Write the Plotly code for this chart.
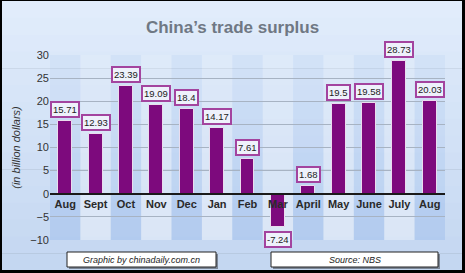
import plotly.graph_objects as go

months = ["Aug", "Sept", "Oct", "Nov", "Dec", "Jan", "Feb", "Mar", "April", "May", "June", "July", "Aug"]
surplus = [15.71, 12.93, 23.39, 19.09, 18.4, 14.17, 7.61, -7.24, 1.68, 19.5, 19.58, 28.73, 20.03]
labels = ["15.71", "12.93", "23.39", "19.09", "18.4", "14.17", "7.61", "-7.24", "1.68", "19.5", "19.58", "28.73", "20.03"]
y_ticks = [-10, -5, 0, 5, 10, 15, 20, 25, 30]

W, H = 465, 273
ML, MR, MT, MB = 50, 20, 55, 33
PW, PH = W - ML - MR, H - MT - MB


def px_x(px):
    return (px - ML) / PW


def px_y(py):
    return (H - MB - py) / PH


xs = list(range(len(months)))

fig = go.Figure()
fig.add_trace(go.Bar(
    x=xs, y=surplus, width=0.46,
    marker=dict(color="#7d0a7d", line=dict(color="#eadcee", width=1)),
    hoverinfo="skip", showlegend=False,
))

shapes = []
# gradient background inside black frame
top = (0xe1, 0xec, 0xfb)
bot = (0xc4, 0xd7, 0xf1)
N = 16
y0p, y1p = 1, 270
for k in range(N):
    t = k / (N - 1)
    c = tuple(round(top[j] + (bot[j] - top[j]) * t) for j in range(3))
    a = y0p + (y1p - y0p) * k / N
    b = y0p + (y1p - y0p) * (k + 1) / N + 0.6
    shapes.append(dict(type="rect", xref="paper", yref="paper", layer="below",
                       x0=px_x(2), x1=px_x(462), y0=px_y(min(b, y1p)), y1=px_y(a),
                       fillcolor="rgb(%d,%d,%d)" % c, line=dict(width=0)))
# alternating column bands (stronger toward the bottom)
segs = [(-10, 0, 0.34), (0, 10, 0.22), (10, 20, 0.16), (20, 30, 0.10)]
for i in xs:
    for (ya, yb, op) in segs:
        col = ("rgba(140,180,235,%.2f)" % op) if i % 2 == 0 else ("rgba(255,255,255,%.2f)" % op)
        shapes.append(dict(type="rect", xref="x", yref="y", layer="below",
                           x0=i - 0.5, x1=i + 0.5, y0=ya, y1=yb,
                           fillcolor=col, line=dict(width=0)))
# footer boxes with shadows
for (l, r) in [(67, 216), (271, 438)]:
    shapes.append(dict(type="rect", xref="paper", yref="paper", layer="above",
                       x0=px_x(l + 2), x1=px_x(r + 2), y0=px_y(269), y1=px_y(254),
                       fillcolor="#7c8796", line=dict(width=0)))
    shapes.append(dict(type="rect", xref="paper", yref="paper", layer="above",
                       x0=px_x(l), x1=px_x(r), y0=px_y(267), y1=px_y(252),
                       fillcolor="#ffffff", line=dict(color="#222222", width=1)))

annotations = []
for i, (v, lab) in enumerate(zip(surplus, labels)):
    annotations.append(dict(
        x=i, y=v, xref="x", yref="y", text=lab, showarrow=False,
        yanchor="bottom" if v >= 0 else "top", yshift=3 if v >= 0 else -4,
        font=dict(family="Arial", size=9.5, color="#222222"),
        bgcolor="#eef1fb", bordercolor="#a3449f", borderwidth=2, borderpad=1,
    ))
annotations.append(dict(x=px_x(141.5), y=px_y(259.5), xref="paper", yref="paper",
                        xanchor="center", yanchor="middle",
                        text="<i>Graphic by chinadaily.com.cn</i>", showarrow=False,
                        font=dict(family="Arial", size=9, color="#222222")))
annotations.append(dict(x=px_x(354.5), y=px_y(259.5), xref="paper", yref="paper",
                        xanchor="center", yanchor="middle",
                        text="<i>Source: NBS</i>", showarrow=False,
                        font=dict(family="Arial", size=9, color="#222222")))

fig.update_layout(
    width=W, height=H,
    margin=dict(l=ML, r=MR, t=MT, b=MB, pad=0),
    paper_bgcolor="#000000", plot_bgcolor="rgba(0,0,0,0)",
    title=dict(text="<b>China’s trade surplus</b>", x=0.5, xanchor="center",
               y=1 - 27 / H, yanchor="middle", yref="container",
               font=dict(family="Arial", size=17, color="#6f7884")),
    shapes=shapes, annotations=annotations, bargap=0,
    xaxis=dict(range=[-0.5, 12.5], tickvals=xs, ticktext=months,
               anchor="free", position=0.25, showline=True, linecolor="#1a1a1a",
               linewidth=2, showgrid=False, zeroline=False, ticks="",
               tickfont=dict(family="Arial", size=11, color="#2a2a2a", weight="bold"),
               fixedrange=True),
    yaxis=dict(range=[-10, 30], tickvals=y_ticks, showgrid=True,
               gridcolor="#a7b3c3", gridwidth=1, zeroline=False, showline=False,
               ticks="", tickfont=dict(family="Arial", size=11, color="#333333"),
               title=dict(text="<i>(in billion dollars)</i>", standoff=7,
                          font=dict(family="Arial", size=11, color="#333333")),
               fixedrange=True),
)

fig.write_html("out.html", config={"displayModeBar": False})
